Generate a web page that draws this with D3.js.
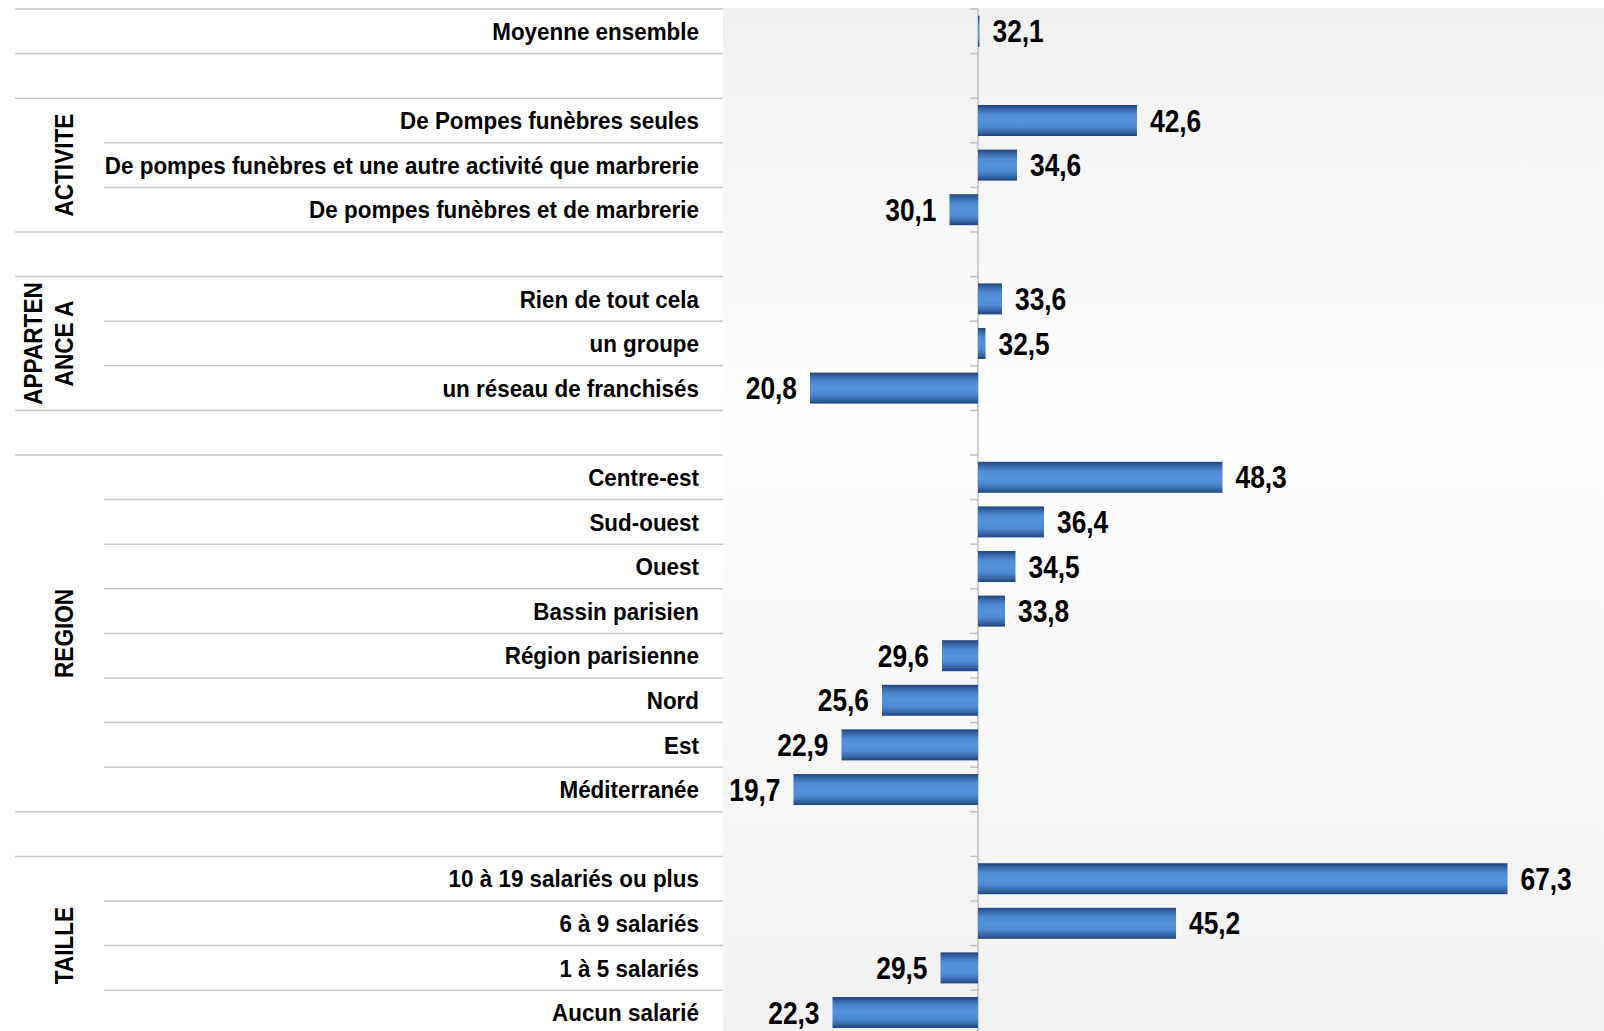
<!DOCTYPE html>
<meta charset="utf-8">
<style>
  body { margin: 0; background: #fff; }
  text { font-family: "Liberation Sans", Arial, sans-serif; font-weight: bold; fill: #000; }
</style>
<body>
<script src="https://d3js.org/d3.v7.min.js"></script>
<script>

// Data
const moyenneLabel = "Moyenne ensemble";
const moyenneValue = 32.1;

const activiteLabels = ["De Pompes funèbres seules", "De pompes funèbres et une autre activité que marbrerie", "De pompes funèbres et de marbrerie"];
const activiteValues = [42.6, 34.6, 30.1];

const appartenanceLabels = ["Rien de tout cela", "un groupe", "un réseau de franchisés"];
const appartenanceValues = [33.6, 32.5, 20.8];

const regionLabels = ["Centre-est", "Sud-ouest", "Ouest", "Bassin parisien", "Région parisienne", "Nord", "Est", "Méditerranée"];
const regionValues = [48.3, 36.4, 34.5, 33.8, 29.6, 25.6, 22.9, 19.7];

const tailleLabels = ["10 à 19 salariés ou plus", "6 à 9 salariés", "1 à 5 salariés", "Aucun salarié"];
const tailleValues = [67.3, 45.2, 29.5, 22.3];

const groupNames = [["ACTIVITE"], ["APPARTEN", "ANCE A"], ["REGION"], ["TAILLE"]];
const baseline = 32;   // the bars start from the overall average

// Build the row list (null = empty separator row)
const groups = [
  [activiteLabels, activiteValues],
  [appartenanceLabels, appartenanceValues],
  [regionLabels, regionValues],
  [tailleLabels, tailleValues]
];
const rows = [{label: moyenneLabel, value: moyenneValue, group: -1}];
groups.forEach(function(g, gi) {
  rows.push(null);
  g[0].forEach(function(l, i) { rows.push({label: l, value: g[1][i], group: gi}); });
});

// Layout
const W = 1604, H = 1031;
const topY = 9, rowH = 44.6;
const plotLeft = 723, plotRight = 1604;
const labelRight = 699;
// no narrow font installed: squeeze Liberation Sans Bold horizontally
const labelSqueeze = 0.934, valueSqueeze = 0.85, groupSqueeze = 0.87;

const svg = d3.select("body").append("svg")
    .attr("width", W)
    .attr("height", H);

const y = d3.scaleBand()
    .domain(d3.range(rows.length))
    .range([topY, topY + rows.length * rowH])
    .paddingInner(0).paddingOuter(0);

const x = d3.scaleLinear()
    .domain([15, 15 + (plotRight - plotLeft) / 15])
    .range([plotLeft, plotRight]);

// Gradients
const defs = svg.append("defs");
const bg = defs.append("linearGradient").attr("id", "bg")
    .attr("x1", 0).attr("y1", 0).attr("x2", 0).attr("y2", 1);
bg.append("stop").attr("offset", "0%").attr("stop-color", "#f0f0f0");
bg.append("stop").attr("offset", "40%").attr("stop-color", "#fefefe");
bg.append("stop").attr("offset", "100%").attr("stop-color", "#f1f1f1");

const barGrad = defs.append("linearGradient").attr("id", "bar")
    .attr("x1", 0).attr("y1", 0).attr("x2", 0).attr("y2", 1);
[["0%", "#1f4478"], ["12%", "#3566a6"], ["30%", "#4f8ad4"], ["50%", "#5692dc"],
 ["70%", "#4f8ad4"], ["88%", "#3566a6"], ["100%", "#1f4478"]].forEach(function(s) {
  barGrad.append("stop").attr("offset", s[0]).attr("stop-color", s[1]);
});

// Plot area background
svg.append("rect")
    .attr("x", plotLeft)
    .attr("y", topY - 1)
    .attr("width", plotRight - plotLeft)
    .attr("height", H - topY + 1)
    .attr("fill", "url(#bg)");

// Row separator lines in the label area
const bounds = d3.range(rows.length + 1);
function isGroupBoundary(k) {
  const above = rows[k - 1], below = rows[k];
  return k === 0 || k === rows.length || above == null || below == null || above.group !== below.group;
}
svg.append("g").selectAll("line")
  .data(bounds).enter().append("line")
    .attr("x1", function(k) { return isGroupBoundary(k) ? 15 : 104; })
    .attr("x2", plotLeft)
    .attr("y1", function(k) { return topY + k * rowH; })
    .attr("y2", function(k) { return topY + k * rowH; })
    .attr("stroke", "#c8c8c8")
    .attr("stroke-width", 1.5);

// Vertical axis at the baseline with small ticks
const axisX = x(baseline);
svg.append("line")
    .attr("x1", axisX).attr("x2", axisX)
    .attr("y1", topY).attr("y2", H)
    .attr("stroke", "#c0c0c0")
    .attr("stroke-width", 1.5);
svg.append("g").selectAll("line")
  .data(bounds).enter().append("line")
    .attr("x1", axisX - 8).attr("x2", axisX)
    .attr("y1", function(k) { return topY + k * rowH; })
    .attr("y2", function(k) { return topY + k * rowH; })
    .attr("stroke", "#c0c0c0")
    .attr("stroke-width", 1.5);

const data = rows.map(function(r, i) { return r ? Object.assign({i: i}, r) : null; }).filter(Boolean);
const barH = 31;

// Bars
svg.append("g").selectAll("rect")
  .data(data).enter().append("rect")
    .attr("x", function(d) { return Math.min(x(d.value), axisX); })
    .attr("width", function(d) { return Math.abs(x(d.value) - axisX); })
    .attr("y", function(d) { return y(d.i) + (rowH - barH) / 2; })
    .attr("height", barH)
    .attr("fill", "url(#bar)");

// Category labels
svg.append("g").selectAll("text")
  .data(data).enter().append("text")
    .attr("transform", function(d) {
      return "translate(" + labelRight + "," + (y(d.i) + rowH / 2) + ") scale(" + labelSqueeze + ",1)";
    })
    .attr("dy", "0.36em")
    .attr("text-anchor", "end")
    .style("font-size", "24px")
    .text(function(d) { return d.label; });

// Value labels
const fmt = function(v) { return d3.format(".1f")(v).replace(".", ","); };
svg.append("g").selectAll("text")
  .data(data).enter().append("text")
    .attr("transform", function(d) {
      const tx = d.value >= baseline ? x(d.value) + 13 : x(d.value) - 13;
      return "translate(" + tx + "," + (y(d.i) + rowH / 2) + ") scale(" + valueSqueeze + ",1)";
    })
    .attr("dy", "0.36em")
    .attr("text-anchor", function(d) { return d.value >= baseline ? "start" : "end"; })
    .style("font-size", "31px")
    .text(function(d) { return fmt(d.value); });

// Group labels, rotated
groupNames.forEach(function(lines, gi) {
  const idx = data.filter(function(d) { return d.group === gi; }).map(function(d) { return d.i; });
  const cy = (y(d3.min(idx)) + y(d3.max(idx)) + rowH) / 2;
  lines.forEach(function(line, li) {
    const cx = 64 - (lines.length - 1 - li) * 31;
    svg.append("text")
        .attr("transform", "translate(" + cx + "," + cy + ") rotate(-90) scale(" + groupSqueeze + ",1)")
        .attr("dy", "0.36em")
        .attr("text-anchor", "middle")
        .style("font-size", "26px")
        .text(line);
  });
});

</script>
</body>
